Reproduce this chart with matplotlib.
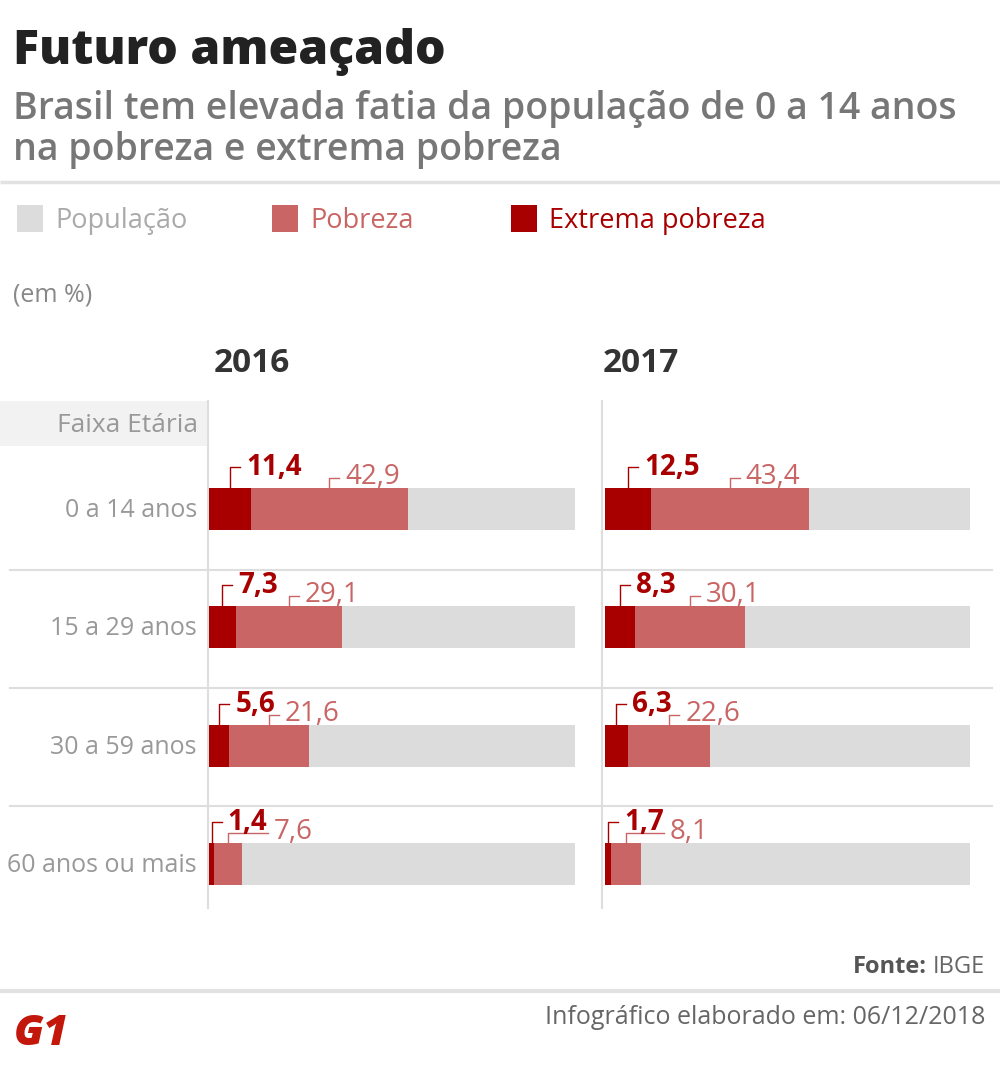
import matplotlib.pyplot as plt
from matplotlib.patches import Rectangle

# data (em %)
faixas = ['0 a 14 anos', '15 a 29 anos', '30 a 59 anos', '60 anos ou mais']
anos = ['2016', '2017']
extrema = {'2016': [11.4, 7.3, 5.6, 1.4], '2017': [12.5, 8.3, 6.3, 1.7]}
pobreza = {'2016': [42.9, 29.1, 21.6, 7.6], '2017': [43.4, 30.1, 22.6, 8.1]}
populacao = 100

C_EXT = '#a80000'
C_POB = '#c96565'
C_POP = '#dcdcdc'
C_GRID = '#dedede'
FONT = 'Open Sans'

W, H = 1000, 1066
fig = plt.figure(figsize=(W / 100, H / 100), dpi=100)

# background axes in pixel coordinates, for text and rules
bg = fig.add_axes([0, 0, 1, 1])
bg.set_xlim(0, W)
bg.set_ylim(H, 0)
bg.axis('off')


def txt(x, y, s, size, color, weight='normal', ha='left', va='baseline'):
    return bg.text(x, y, s, fontsize=size, color=color, fontweight=weight,
                   ha=ha, va=va, family=FONT)


# header
txt(13, 64, 'Futuro ameaçado', 34.7, '#222222', weight='heavy')
txt(13, 119, 'Brasil tem elevada fatia da população de 0 a 14 anos', 27, '#777777', weight='semibold')
txt(13, 160, 'na pobreza e extrema pobreza', 27, '#777777', weight='semibold')
bg.plot([0, W], [182, 182], color='#e2e2e2', lw=2.5, solid_capstyle='butt')

# legend
leg = [('População', C_POP, '#aaaaaa', 17),
       ('Pobreza', C_POB, C_POB, 272),
       ('Extrema pobreza', C_EXT, C_EXT, 511)]
for lab, fc, tc, x0 in leg:
    bg.add_patch(Rectangle((x0, 205), 26, 27, color=fc, lw=0))
    txt(x0 + 38, 228, lab, 19.5, tc)

txt(13, 302, '(em %)', 18, '#888888')

# panel geometry (pixels)
panel_x = {'2016': (209, 575), '2017': (605, 970)}
row_top, row_step = 509 - 59.2, 118.33
bar_h = 42 / row_step

# grid rules and header cells
bg.add_patch(Rectangle((0, 401), 208, 45, color='#f2f2f2', lw=0))
txt(198, 432, 'Faixa Etária', 19, '#999999', ha='right')
bg.plot([208, 208], [401, 908], color=C_GRID, lw=1.5)
bg.plot([602, 602], [401, 908], color=C_GRID, lw=1.5)
for ysep in [570, 688, 806]:
    bg.plot([10, 992], [ysep, ysep], color=C_GRID, lw=1.5)

txt(252, 372, '2016', 24, '#333333', weight='bold', ha='center')
txt(641, 372, '2017', 24, '#333333', weight='bold', ha='center')

axes = {}
for ano in anos:
    x0, x1 = panel_x[ano]
    ax = fig.add_axes([x0 / W, 1 - (row_top + 4 * row_step) / H,
                       (x1 - x0) / W, 4 * row_step / H])
    ax.set_xlim(0, 100)
    ax.set_ylim(len(faixas) - 0.5, -0.5)
    ax.axis('off')
    ax.patch.set_alpha(0)
    ys = list(range(len(faixas)))
    ax.barh(ys, [populacao] * len(faixas), height=bar_h, color=C_POP, lw=0)
    ax.barh(ys, extrema[ano], height=bar_h, color=C_EXT, lw=0)
    ax.barh(ys, pobreza[ano], left=extrema[ano], height=bar_h, color=C_POB, lw=0)
    axes[ano] = ax

# row labels, aligned with the bar centres
ax0 = axes['2016']
for i, f in enumerate(faixas):
    _, yd = ax0.transData.transform((0, i))
    txt(197, H - yd + 8, f, 18, '#999999', ha='right')


def to_px(ax, x, y):
    xd, yd = ax.transData.transform((x, y))
    return xd, H - yd


# value labels with bracket leaders
for ano in anos:
    ax = axes[ano]
    for i in range(len(faixas)):
        e, p = extrema[ano][i], pobreza[ano][i]
        mx_e, top = to_px(ax, e / 2, i - bar_h / 2)
        mx_p, _ = to_px(ax, e + p / 2, i - bar_h / 2)
        # extrema
        bg.plot([mx_e, mx_e, mx_e + 10], [top, top - 21, top - 21], color=C_EXT, lw=1)
        xe = mx_e + 16
        txt(xe, top - 13, f'{e:.1f}'.replace('.', ','), 20, C_EXT, weight='bold')
        # pobreza
        xp = max(mx_p + 16, xe + 46)
        bg.plot([mx_p, mx_p, xp - 6], [top, top - 10, top - 10], color=C_POB, lw=1)
        txt(xp, top - 4, f'{p:.1f}'.replace('.', ','), 20, C_POB)

# footer
fonte = txt(985, 973, 'IBGE', 17, '#666666', ha='right')
r = fig.canvas.get_renderer()
w_ibge = fonte.get_window_extent(r).width
txt(985 - w_ibge - 6, 973, 'Fonte:', 17, '#555555', weight='bold', ha='right')
bg.plot([0, W], [991, 991], color='#e2e2e2', lw=3, solid_capstyle='butt')
txt(985, 1024, 'Infográfico elaborado em: 06/12/2018', 18, '#666666', ha='right')
bg.text(14, 1045, 'G1', fontsize=31, color='#c4170c', fontweight='heavy',
        style='italic', family='Open Sans')

fig.savefig('out.png', dpi=100)
